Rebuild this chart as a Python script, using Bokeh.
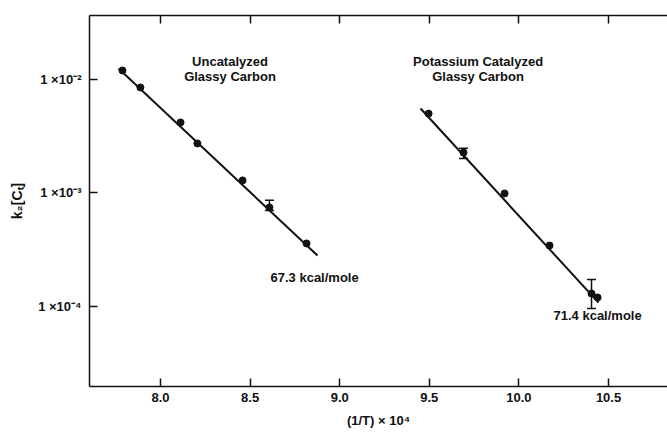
from bokeh.plotting import figure
from bokeh.models import (ColumnDataSource, Whisker, TeeHead, Label, LinearAxis,
                          FixedTicker, CustomJSTickFormatter, Range1d)
from bokeh.embed import file_html
from bokeh.resources import INLINE

# ---- data ----
unc_x = [7.788, 7.888, 8.112, 8.206, 8.458, 8.608, 8.815]
unc_y = [1.20e-2, 8.5e-3, 4.18e-3, 2.73e-3, 1.29e-3, 7.45e-4, 3.59e-4]
unc_err_x = [8.608]
unc_err_hi = [8.6e-4]
unc_err_lo = [7.0e-4]
unc_fit_x = [7.766, 8.876]
unc_fit_y = [1.25e-2, 2.81e-4]

cat_x = [9.496, 9.691, 9.920, 10.171, 10.405, 10.439]
cat_y = [5.0e-3, 2.27e-3, 9.9e-4, 3.44e-4, 1.30e-4, 1.20e-4]
cat_err_x = [9.691, 10.405]
cat_err_hi = [2.47e-3, 1.73e-4]
cat_err_lo = [2.01e-3, 9.6e-5]
cat_fit_x = [9.451, 10.444]
cat_fit_y = [5.55e-3, 1.08e-4]

x_ticks = [8.0, 8.5, 9.0, 9.5, 10.0, 10.5]
y_ticks = [1e-2, 1e-3, 1e-4]

FONT = "Liberation Sans"
INK = "#111111"

p = figure(width=667, height=434, y_axis_type="log",
           x_range=Range1d(7.604, 10.829), y_range=Range1d(1.97e-5, 3.66e-2),
           output_backend="svg", toolbar_location=None,
           min_border_left=89, min_border_right=0, min_border_top=15,
           min_border_bottom=48)
p.outline_line_color = None
p.grid.visible = False
p.background_fill_color = "white"
p.border_fill_color = "white"

# fit lines
p.line(unc_fit_x, unc_fit_y, line_color=INK, line_width=2)
p.line(cat_fit_x, cat_fit_y, line_color=INK, line_width=2)

# points
p.scatter(unc_x, unc_y, size=7, color=INK)
p.scatter(cat_x, cat_y, size=7, color=INK)

# error bars
for ex, hi, lo in ((unc_err_x, unc_err_hi, unc_err_lo), (cat_err_x, cat_err_hi, cat_err_lo)):
    src = ColumnDataSource(dict(x=ex, upper=hi, lower=lo))
    w = Whisker(source=src, base="x", upper="upper", lower="lower", dimension="height",
                line_color=INK, line_width=1.5,
                upper_head=TeeHead(size=9, line_color=INK, line_width=1.5),
                lower_head=TeeHead(size=9, line_color=INK, line_width=1.5))
    p.add_layout(w)

# axes
xa = p.xaxis[0]
xa.ticker = FixedTicker(ticks=x_ticks)
xa.minor_tick_line_color = None
xa.major_tick_in = 8
xa.major_tick_out = 0
xa.axis_line_width = 1.5
xa.major_tick_line_width = 1.5
xa.axis_line_color = INK
xa.major_tick_line_color = INK
xa.major_label_text_font = FONT
xa.major_label_text_font_style = "bold"
xa.major_label_text_font_size = "13px"
xa.major_label_text_color = INK
xa.major_label_standoff = 6
xa.formatter = CustomJSTickFormatter(code="return tick.toFixed(1);")
xa.axis_label = "(1/T) × 10⁴"
xa.axis_label_text_font = FONT
xa.axis_label_text_font_style = "bold"
xa.axis_label_text_font_size = "13px"
xa.axis_label_text_color = INK
xa.axis_label_standoff = 8

ya = p.yaxis[0]
ya.ticker = FixedTicker(ticks=y_ticks)
ya.minor_tick_line_color = None
ya.major_tick_in = 8
ya.major_tick_out = 0
ya.axis_line_width = 1.5
ya.major_tick_line_width = 1.5
ya.axis_line_color = INK
ya.major_tick_line_color = INK
ya.major_label_text_font = FONT
ya.major_label_text_font_style = "bold"
ya.major_label_text_font_size = "13px"
ya.major_label_text_color = INK
ya.major_label_standoff = 8
ya.formatter = CustomJSTickFormatter(code="""
const e = Math.round(Math.log10(tick));
const m = {'-':'\u207b','0':'\u2070','1':'\u00b9','2':'\u00b2','3':'\u00b3','4':'\u2074',
           '5':'\u2075','6':'\u2076','7':'\u2077','8':'\u2078','9':'\u2079'};
const s = String(e).split('').map(c => m[c]).join('');
return '1 \u00d710' + s;
""")
ya.axis_label = "k₂[Cₜ]"
ya.axis_label_text_font = FONT
ya.axis_label_text_font_style = "bold"
ya.axis_label_text_font_size = "14px"
ya.axis_label_text_color = INK
ya.axis_label_standoff = 10

top = LinearAxis(ticker=FixedTicker(ticks=x_ticks))
top.minor_tick_line_color = None
top.major_tick_in = 8
top.major_tick_out = 0
top.axis_line_width = 1.5
top.major_tick_line_width = 1.5
top.axis_line_color = INK
top.major_tick_line_color = INK
top.major_label_text_font_size = "0px"
top.major_label_text_color = None
top.major_label_standoff = 0
top.major_label_overrides = {t: "" for t in x_ticks}
p.add_layout(top, "above")

# annotations
def lab(x, y, t, align="center"):
    p.add_layout(Label(x=x, y=y, text=t, text_font=FONT, text_font_style="bold",
                       text_font_size="13px", text_color=INK, text_align=align,
                       text_baseline="middle"))

lab(8.388, 1.442e-2, "Uncatalyzed")
lab(8.388, 1.062e-2, "Glassy Carbon")
lab(9.772, 1.442e-2, "Potassium Catalyzed")
lab(9.772, 1.062e-2, "Glassy Carbon")
lab(8.614, 1.80e-4, "67.3 kcal/mole", "left")
lab(10.193, 8.34e-5, "71.4 kcal/mole", "left")

open("out.html", "w").write(file_html(p, INLINE))
